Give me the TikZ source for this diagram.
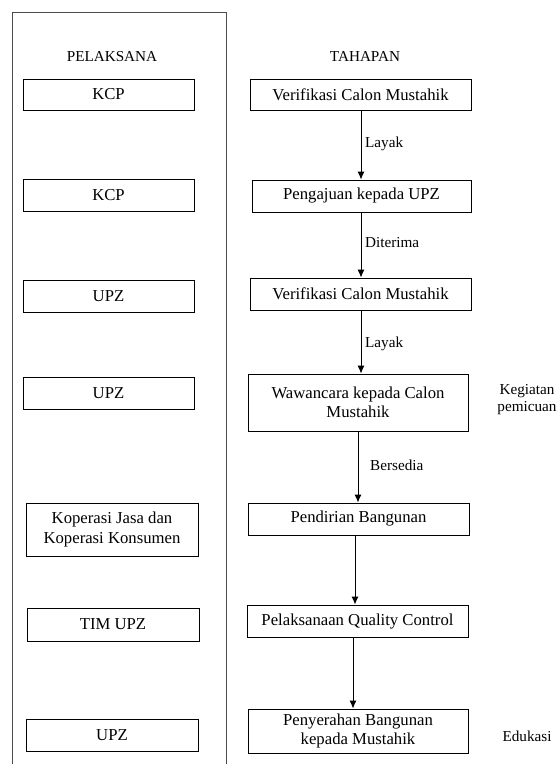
\documentclass[tikz,border=0pt]{standalone}
\usepackage{fontspec}
\setmainfont{Liberation Serif}
\usetikzlibrary{arrows.meta}
\tikzset{
  box/.style={draw=black, line width=0.9pt, rectangle, inner sep=0pt, align=center,
    font=\fontsize{16.7}{19.5}\selectfont},
  lbl/.style={inner sep=0pt, font=\fontsize{15.2}{17}\selectfont},
  arr/.style={draw=black, line width=1pt, -{Latex[length=8pt,width=7pt]}},
  frame/.style={draw=black!70, line width=0.9pt}
}
\begin{document}
\begin{tikzpicture}[x=1pt,y=-1pt]
\useasboundingbox (0,0) rectangle (560,764);
% outer frame
\coordinate (f1) at (12,764);
\coordinate (f2) at (12,12);
\coordinate (f3) at (226,12);
\coordinate (f4) at (226,764);
\draw[frame] (f1) -- (f2) -- (f3) -- (f4);
% headers
\node[lbl, anchor=base] (h1) at (112,61) {PELAKSANA};
\node[lbl, anchor=base] (h2) at (365,61) {TAHAPAN};
% left boxes
\node[box, minimum width=171pt, minimum height=31pt] (l1) at (108.5,94.5) {KCP};
\node[box, minimum width=171pt, minimum height=32pt] (l2) at (108.5,195) {KCP};
\node[box, minimum width=171pt, minimum height=32pt] (l3) at (108.5,296) {UPZ};
\node[box, minimum width=171pt, minimum height=32pt] (l4) at (108.5,393) {UPZ};
\node[box, minimum width=172pt, minimum height=53pt] (l5) at (112,529.5) {Koperasi Jasa dan\\Koperasi Konsumen};
\node[box, minimum width=172pt, minimum height=33pt] (l6) at (113,624.5) {TIM UPZ};
\node[box, minimum width=172pt, minimum height=32pt] (l7) at (112,735) {UPZ};
% right boxes
\node[box, minimum width=221pt, minimum height=31pt] (r1) at (360.5,94.5) {Verifikasi Calon Mustahik};
\node[box, minimum width=219pt, minimum height=32pt] (r2) at (361.5,196) {Pengajuan kepada UPZ};
\node[box, minimum width=221pt, minimum height=32pt] (r3) at (360.5,294) {Verifikasi Calon Mustahik};
\node[box, minimum width=220pt, minimum height=57pt] (r4) at (358,402.5) {Wawancara kepada Calon\\Mustahik};
\node[box, minimum width=221pt, minimum height=32pt] (r5) at (358.5,519) {Pendirian Bangunan};
\node[box, minimum width=221pt, minimum height=32pt] (r6) at (357.5,621) {Pelaksanaan Quality Control};
\node[box, minimum width=220pt, minimum height=44pt] (r7) at (358,731) {Penyerahan Bangunan\\kepada Mustahik};
% arrows
\coordinate (a1) at ([xshift=0.5pt]r1.south);
\coordinate (a2) at ([xshift=-0.5pt]r2.south);
\coordinate (a3) at ([xshift=0.5pt]r3.south);
\coordinate (a4) at (r4.south);
\coordinate (a5) at ([xshift=-3.5pt]r5.south);
\coordinate (a6) at ([xshift=-4.5pt]r6.south);
\draw[arr] (a1) -- (a1 |- r2.north);
\draw[arr] (a2) -- (a2 |- r3.north);
\draw[arr] (a3) -- (a3 |- r4.north);
\draw[arr] (a4) -- (a4 |- r5.north);
\draw[arr] (a5) -- (a5 |- r6.north);
\draw[arr] (a6) -- (a6 |- r7.north);
% arrow labels
\node[lbl, anchor=west] (t1) at (365,144) {Layak};
\node[lbl, anchor=west] (t2) at (365,243) {Diterima};
\node[lbl, anchor=west] (t3) at (365,344) {Layak};
\node[lbl, anchor=west] (t4) at (370,465) {Bersedia};
% side notes
\node[lbl, align=center] (s1) at (527,400) {Kegiatan\\pemicuan};
\node[lbl] (s2) at (527,736) {Edukasi};
\end{tikzpicture}
\end{document}
